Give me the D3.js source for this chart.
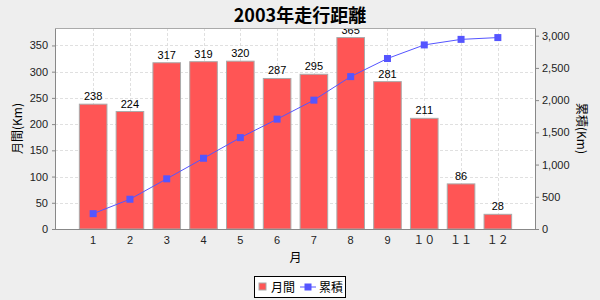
<!DOCTYPE html>
<html><head><meta charset="utf-8">
<script src="https://cdn.jsdelivr.net/npm/d3@7"></script>
<style>body{margin:0;background:#eeeeee;}svg{display:block;font-family:"Liberation Sans","Noto Sans CJK JP",sans-serif;}</style>
</head><body><svg id="c" width="600" height="300"></svg>
<script>
const months = ["1","2","3","4","5","6","7","8","9","１０","１１","１２"];
const monthly = [238,224,317,319,320,287,295,365,281,211,86,28];
const cumulative = [238,462,779,1098,1418,1705,2000,2365,2646,2857,2943,2971];
const leftTicks = [0,50,100,150,200,250,300,350];
const rightTicks = [0,500,1000,1500,2000,2500,3000];

const svg = d3.select("#c");
const L=55, R=536, T=28, B=229;
const FONT = "Liberation Sans, Noto Sans CJK JP, sans-serif";
const CJK = "Noto Sans CJK JP, sans-serif";
svg.append("rect").attr("width",600).attr("height",300).attr("fill","#eeeeee");
svg.append("defs").append("clipPath").attr("id","plotclip").append("rect").attr("x",L).attr("y",T).attr("width",R-L).attr("height",B-T);
svg.append("rect").attr("x",L).attr("y",T).attr("width",R-L).attr("height",B-T).attr("fill","#ffffff");

const x = d3.scaleBand().domain(months).range([L,R]).paddingInner(0.25).paddingOuter(0.662);
const yL = d3.scaleLinear().domain([0,383.25]).range([B,T]);
const yR = d3.scaleLinear().domain([0,3119.55]).range([B,T]);

// grid
const g = svg.append("g").attr("stroke","#d8d8d8").attr("stroke-dasharray","3,2").attr("stroke-width",0.8);
leftTicks.forEach(t=>g.append("line").attr("x1",L).attr("x2",R).attr("y1",Math.round(yL(t))+0.5).attr("y2",Math.round(yL(t))+0.5));
months.forEach(m=>{const cx=Math.round(x(m)+x.bandwidth()/2)+0.5;g.append("line").attr("x1",cx).attr("x2",cx).attr("y1",T).attr("y2",B);});

const plot = svg.append("g").attr("clip-path","url(#plotclip)");
// bars
plot.append("g").selectAll("rect").data(monthly).join("rect")
  .attr("x",(d,i)=>x(months[i])).attr("y",d=>yL(d)).attr("width",x.bandwidth()).attr("height",d=>B-yL(d))
  .attr("fill","#ff5555").attr("stroke","#aaaaaa").attr("stroke-width",1);
plot.append("g").selectAll("text").data(monthly).join("text")
  .attr("x",(d,i)=>x(months[i])+x.bandwidth()/2).attr("y",d=>yL(d)-4)
  .attr("text-anchor","middle").attr("font-size",11).attr("fill","#000").attr("font-family",FONT).text(d=>d);

// line
const cx = i=>x(months[i])+x.bandwidth()/2;
plot.append("path").datum(cumulative).attr("fill","none").attr("stroke","#5555ff").attr("stroke-width",1)
  .attr("d",d3.line().x((d,i)=>cx(i)).y(d=>yR(d)));
plot.append("g").selectAll("rect").data(cumulative).join("rect")
  .attr("x",(d,i)=>cx(i)-3.5).attr("y",d=>yR(d)-3.5).attr("width",7).attr("height",7).attr("fill","#5555ff");

// axes
const axL = svg.append("g").attr("transform",`translate(${L},0)`)
  .call(d3.axisLeft(yL).tickValues(leftTicks).tickSize(3).tickPadding(4));
const axR = svg.append("g").attr("transform",`translate(${R},0)`)
  .call(d3.axisRight(yR).tickValues(rightTicks).tickSize(3).tickPadding(3).tickFormat(d3.format(",")));
const axB = svg.append("g").attr("transform",`translate(0,${B})`)
  .call(d3.axisBottom(x).tickSize(0).tickPadding(7));
[axL,axR,axB].forEach(a=>{
  a.select("path.domain").remove();
  a.selectAll("line").attr("stroke","#888888");
  a.selectAll("text").attr("font-size",11).attr("fill","#222").attr("font-family",FONT);
});
svg.append("line").attr("x1",L+0.5).attr("x2",L+0.5).attr("y1",T).attr("y2",B+0.5).attr("stroke","#888888");
svg.append("line").attr("x1",R-0.5).attr("x2",R-0.5).attr("y1",T).attr("y2",B+0.5).attr("stroke","#888888");
svg.append("line").attr("x1",L).attr("x2",R).attr("y1",B+0.5).attr("y2",B+0.5).attr("stroke","#888888");
svg.append("line").attr("x1",L).attr("x2",R).attr("y1",T+0.5).attr("y2",T+0.5).attr("stroke","#aaaaaa");

// titles
svg.append("text").attr("x",300).attr("y",22).attr("text-anchor","middle").attr("font-size",18).attr("font-weight","bold")
  .attr("font-family",CJK).text("2003年走行距離");
svg.append("text").attr("transform",`translate(22,${(T+B)/2}) rotate(-90)`).attr("text-anchor","middle").attr("font-size",12)
  .attr("font-family",CJK).text("月間(Km)");
svg.append("text").attr("transform",`translate(577,${(T+B)/2}) rotate(90)`).attr("text-anchor","middle").attr("font-size",12)
  .attr("font-family",CJK).text("累積(Km)");
svg.append("text").attr("x",(L+R)/2).attr("y",262).attr("text-anchor","middle").attr("font-size",12)
  .attr("font-family",CJK).text("月");

// legend
const lg = svg.append("g");
lg.append("rect").attr("x",254.5).attr("y",276.5).attr("width",91).attr("height",21).attr("fill","#fff").attr("stroke","#000");
lg.append("rect").attr("x",259).attr("y",283).attr("width",7).attr("height",7).attr("fill","#ff5555").attr("stroke","#aaaaaa");
lg.append("text").attr("x",271).attr("y",292).attr("font-size",12).attr("font-family",CJK).text("月間");
lg.append("line").attr("x1",300).attr("x2",316).attr("y1",287).attr("y2",287).attr("stroke","#5555ff");
lg.append("rect").attr("x",304.5).attr("y",283.5).attr("width",7).attr("height",7).attr("fill","#5555ff");
lg.append("text").attr("x",319).attr("y",292).attr("font-size",12).attr("font-family",CJK).text("累積");
</script></body></html>
